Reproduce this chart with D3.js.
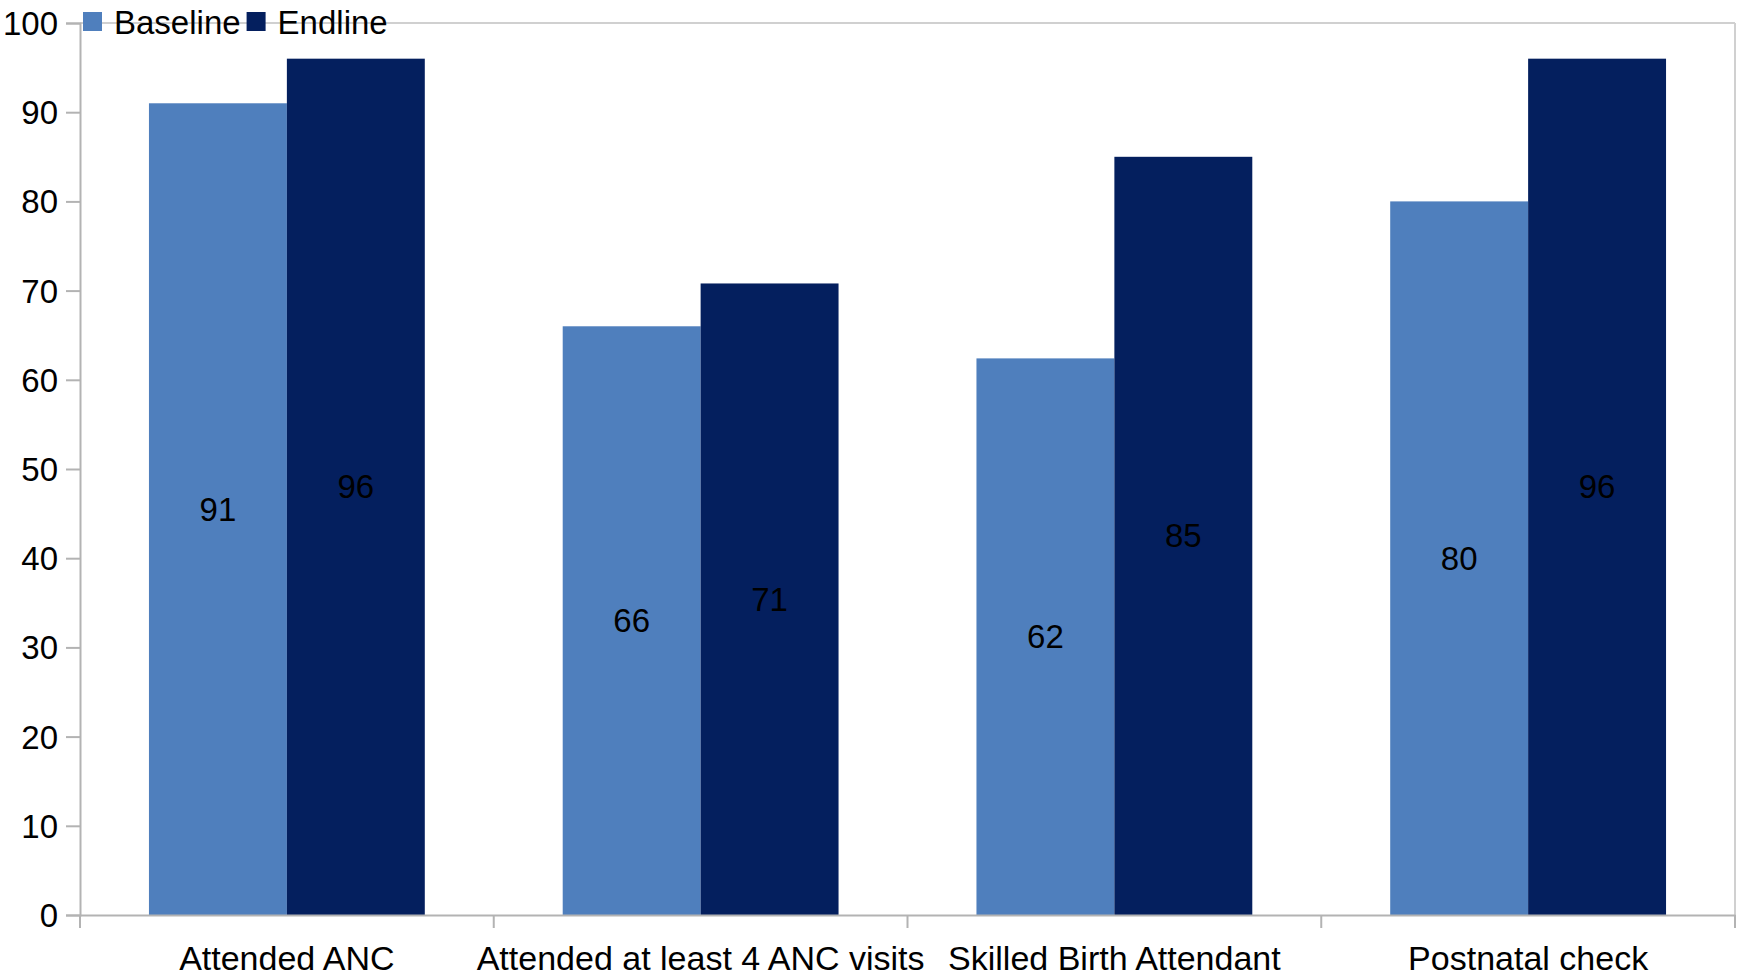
<!DOCTYPE html>
<html>
<head>
<meta charset="utf-8">
<script src="https://cdn.jsdelivr.net/npm/d3@7"></script>
<style>
  body { margin: 0; background: #fff; }
  text { font-family: "Liberation Sans", Arial, sans-serif; fill: #000; }
</style>
</head>
<body>
<div id="chart-area"></div>
<script>
const categories = ["Attended ANC", "Attended at least 4 ANC visits", "Skilled Birth Attendant", "Postnatal check"];
const seriesNames = ["Baseline", "Endline"];
const baseline = [91, 66, 62.4, 80];
const endline = [96, 70.8, 85, 96];
const labelsBaseline = ["91", "66", "62", "80"];
const labelsEndline = ["96", "71", "85", "96"];
const yTicks = [0, 10, 20, 30, 40, 50, 60, 70, 80, 90, 100];

const colors = ["#4f7fbd", "#041f5e"];
const width = 1743, height = 977;
const margin = { left: 80, right: 8, top: 23, bottom: 62 };
const fontSize = "33px";

var svg = d3.select("#chart-area")
	.append("svg")
	.attr("width", width)
	.attr("height", height);

var x = d3.scaleBand()
	.domain(categories)
	.range([margin.left, width - margin.right])
	.padding(0);

var y = d3.scaleLinear()
	.domain([0, 100])
	.range([height - margin.bottom, margin.top]);

var bw = x.bandwidth() / 3;

// plot frame: top and right light lines
svg.append("line")
	.attr("x1", x.range()[0]).attr("x2", x.range()[1])
	.attr("y1", y(100)).attr("y2", y(100))
	.attr("stroke", "#d0d0d0").attr("stroke-width", 2);
svg.append("line")
	.attr("x1", x.range()[1]).attr("x2", x.range()[1])
	.attr("y1", y(100)).attr("y2", y(0))
	.attr("stroke", "#d0d0d0").attr("stroke-width", 2);

var rows = [baseline, endline];
var labels = [labelsBaseline, labelsEndline];

rows.forEach((vals, s) => {
	svg.append("g")
		.selectAll("rect")
		.data(vals)
		.enter()
		.append("rect")
		.attr("x", (d, i) => x(categories[i]) + bw / 2 + s * bw)
		.attr("y", d => y(d))
		.attr("width", bw)
		.attr("height", d => y(0) - y(d))
		.attr("fill", colors[s]);

	svg.append("g")
		.selectAll("text")
		.data(vals)
		.enter()
		.append("text")
		.attr("x", (d, i) => x(categories[i]) + bw / 2 + s * bw + bw / 2)
		.attr("y", d => (y(d) + y(0)) / 2)
		.attr("dy", "0.35em")
		.attr("text-anchor", "middle")
		.attr("font-size", fontSize)
		.text((d, i) => labels[s][i]);
});

// y axis
var yAxis = svg.append("g")
	.attr("transform", `translate(${margin.left}, 0)`)
	.call(d3.axisLeft(y).tickValues(yTicks).tickSize(14).tickPadding(8));
yAxis.selectAll("text").attr("font-size", fontSize).attr("dy", "0.35em");

// x axis
var xAxis = svg.append("g")
	.attr("transform", `translate(0, ${y(0)})`)
	.call(d3.axisBottom(x).tickSize(0).tickPadding(31));
xAxis.selectAll("text").attr("font-size", "34px").attr("dy", "0.71em");

// category separators on x axis
svg.append("g")
	.selectAll("line")
	.data(categories.concat(["end"]))
	.enter()
	.append("line")
	.attr("x1", (d, i) => i < categories.length ? x(d) : x.range()[1])
	.attr("x2", (d, i) => i < categories.length ? x(d) : x.range()[1])
	.attr("y1", y(0))
	.attr("y2", y(0) + 13)
	.attr("stroke", "#b3b3b3")
	.attr("stroke-width", 2);

[yAxis, xAxis].forEach(a => {
	a.select(".domain").attr("stroke", "#b3b3b3").attr("stroke-width", 2);
	a.selectAll(".tick line").attr("stroke", "#b3b3b3").attr("stroke-width", 2);
});

// legend
var legend = svg.append("g").attr("transform", "translate(83, 12)");
var lx = 0;
seriesNames.forEach((name, i) => {
	legend.append("rect")
		.attr("x", lx)
		.attr("y", 0)
		.attr("width", 19)
		.attr("height", 19)
		.attr("fill", colors[i]);
	var t = legend.append("text")
		.attr("x", lx + 31)
		.attr("y", 10)
		.attr("dy", "0.35em")
		.attr("font-size", fontSize)
		.text(name);
	lx = lx + 31 + t.node().getComputedTextLength() + 6;
});
</script>
</body>
</html>
